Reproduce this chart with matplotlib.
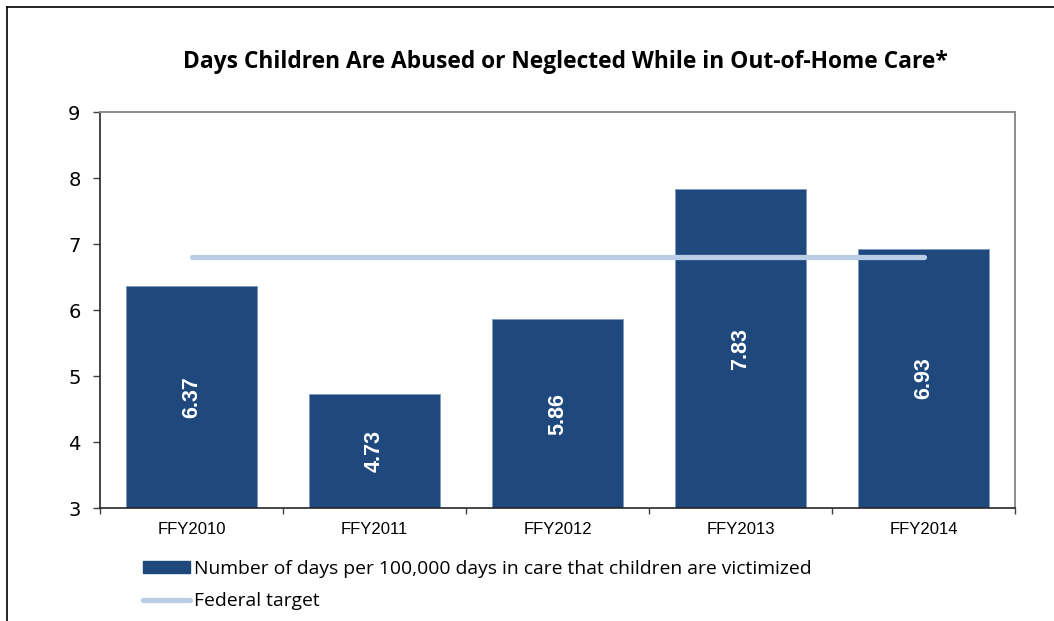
import matplotlib
matplotlib.use("Agg")
import matplotlib.pyplot as plt
from matplotlib.lines import Line2D
from matplotlib.patches import Patch

categories = ["FFY2010", "FFY2011", "FFY2012", "FFY2013", "FFY2014"]
days_victimized = [6.37, 4.73, 5.86, 7.83, 6.93]
federal_target = [6.8, 6.8, 6.8, 6.8, 6.8]
yticks = [3, 4, 5, 6, 7, 8, 9]
title = "Days Children Are Abused or Neglected While in Out-of-Home Care*"
bar_label = "Number of days per 100,000 days in care that children are victimized"
line_label = "Federal target"

BAR = "#1F497D"
LINE = "#B9CDE5"
W, H = 1054, 621

fig = plt.figure(figsize=(W / 100, H / 100), dpi=100)
ax = fig.add_axes([100 / W, 1 - 508 / H, (1015 - 100) / W, (508 - 112) / H])

x = list(range(len(categories)))
base = yticks[0]
heights = [v - base for v in days_victimized]
ax.bar(x, heights, bottom=base, width=0.716, color=BAR, edgecolor="#7F9CC4",
       linewidth=0.7, zorder=2)
ax.plot(x, federal_target, color=LINE, lw=3.8, solid_capstyle="round", zorder=3)

for xi, v in zip(x, days_victimized):
    ax.text(xi, (base + v) / 2, f"{v:.2f}", rotation=90, ha="center", va="center",
            color="white", fontsize=15.5, fontweight="bold", family="Liberation Sans",
            zorder=4)

ax.set_xlim(-0.5, len(categories) - 0.5)
ax.set_ylim(yticks[0], yticks[-1])
ax.set_yticks(yticks)
ax.set_yticklabels([str(t) for t in yticks], fontsize=14, family="DejaVu Sans")
ax.tick_params(axis="y", direction="out", length=5, width=1, color="#404040", pad=9)

ax.set_xticks([i - 0.5 for i in range(len(categories) + 1)])
ax.set_xticklabels([])
ax.tick_params(axis="x", which="major", direction="out", length=4, width=1, color="#404040")
ax.set_xticks(x, minor=True)
ax.set_xticklabels(categories, minor=True, fontsize=12, family="Liberation Sans")
ax.tick_params(axis="x", which="minor", length=0, pad=10)

for s in ["top", "right"]:
    ax.spines[s].set_color("#8C8C8C")
    ax.spines[s].set_linewidth(1.4)
for s in ["left", "bottom"]:
    ax.spines[s].set_color("#262626")
    ax.spines[s].set_linewidth(1.2)

fig.text(565 / W, 1 - 62 / H, title, ha="center", va="center", fontsize=16.4,
         fontweight="bold", family="Open Sans")

handles = [Patch(facecolor=BAR, edgecolor=BAR),
           Line2D([0], [0], color=LINE, lw=3.8, solid_capstyle="round")]
leg = fig.legend(handles, [bar_label, line_label], loc="upper left",
                 bbox_to_anchor=(143 / W, 1 - 560 / H), frameon=False,
                 prop={"family": "Open Sans", "size": 13.9},
                 handlelength=2.45, handleheight=0.55, handletextpad=0.2,
                 labelspacing=0.73, borderpad=0, borderaxespad=0)

# outer frame (only top and left edges visible)
fig.add_artist(Line2D([7 / W, 7 / W], [0, 1 - 7 / H], color="black", lw=1.2,
                      transform=fig.transFigure))
fig.add_artist(Line2D([7 / W, 1], [1 - 7 / H, 1 - 7 / H], color="black", lw=1.2,
                      transform=fig.transFigure))

fig.savefig("out.png", dpi=100)
